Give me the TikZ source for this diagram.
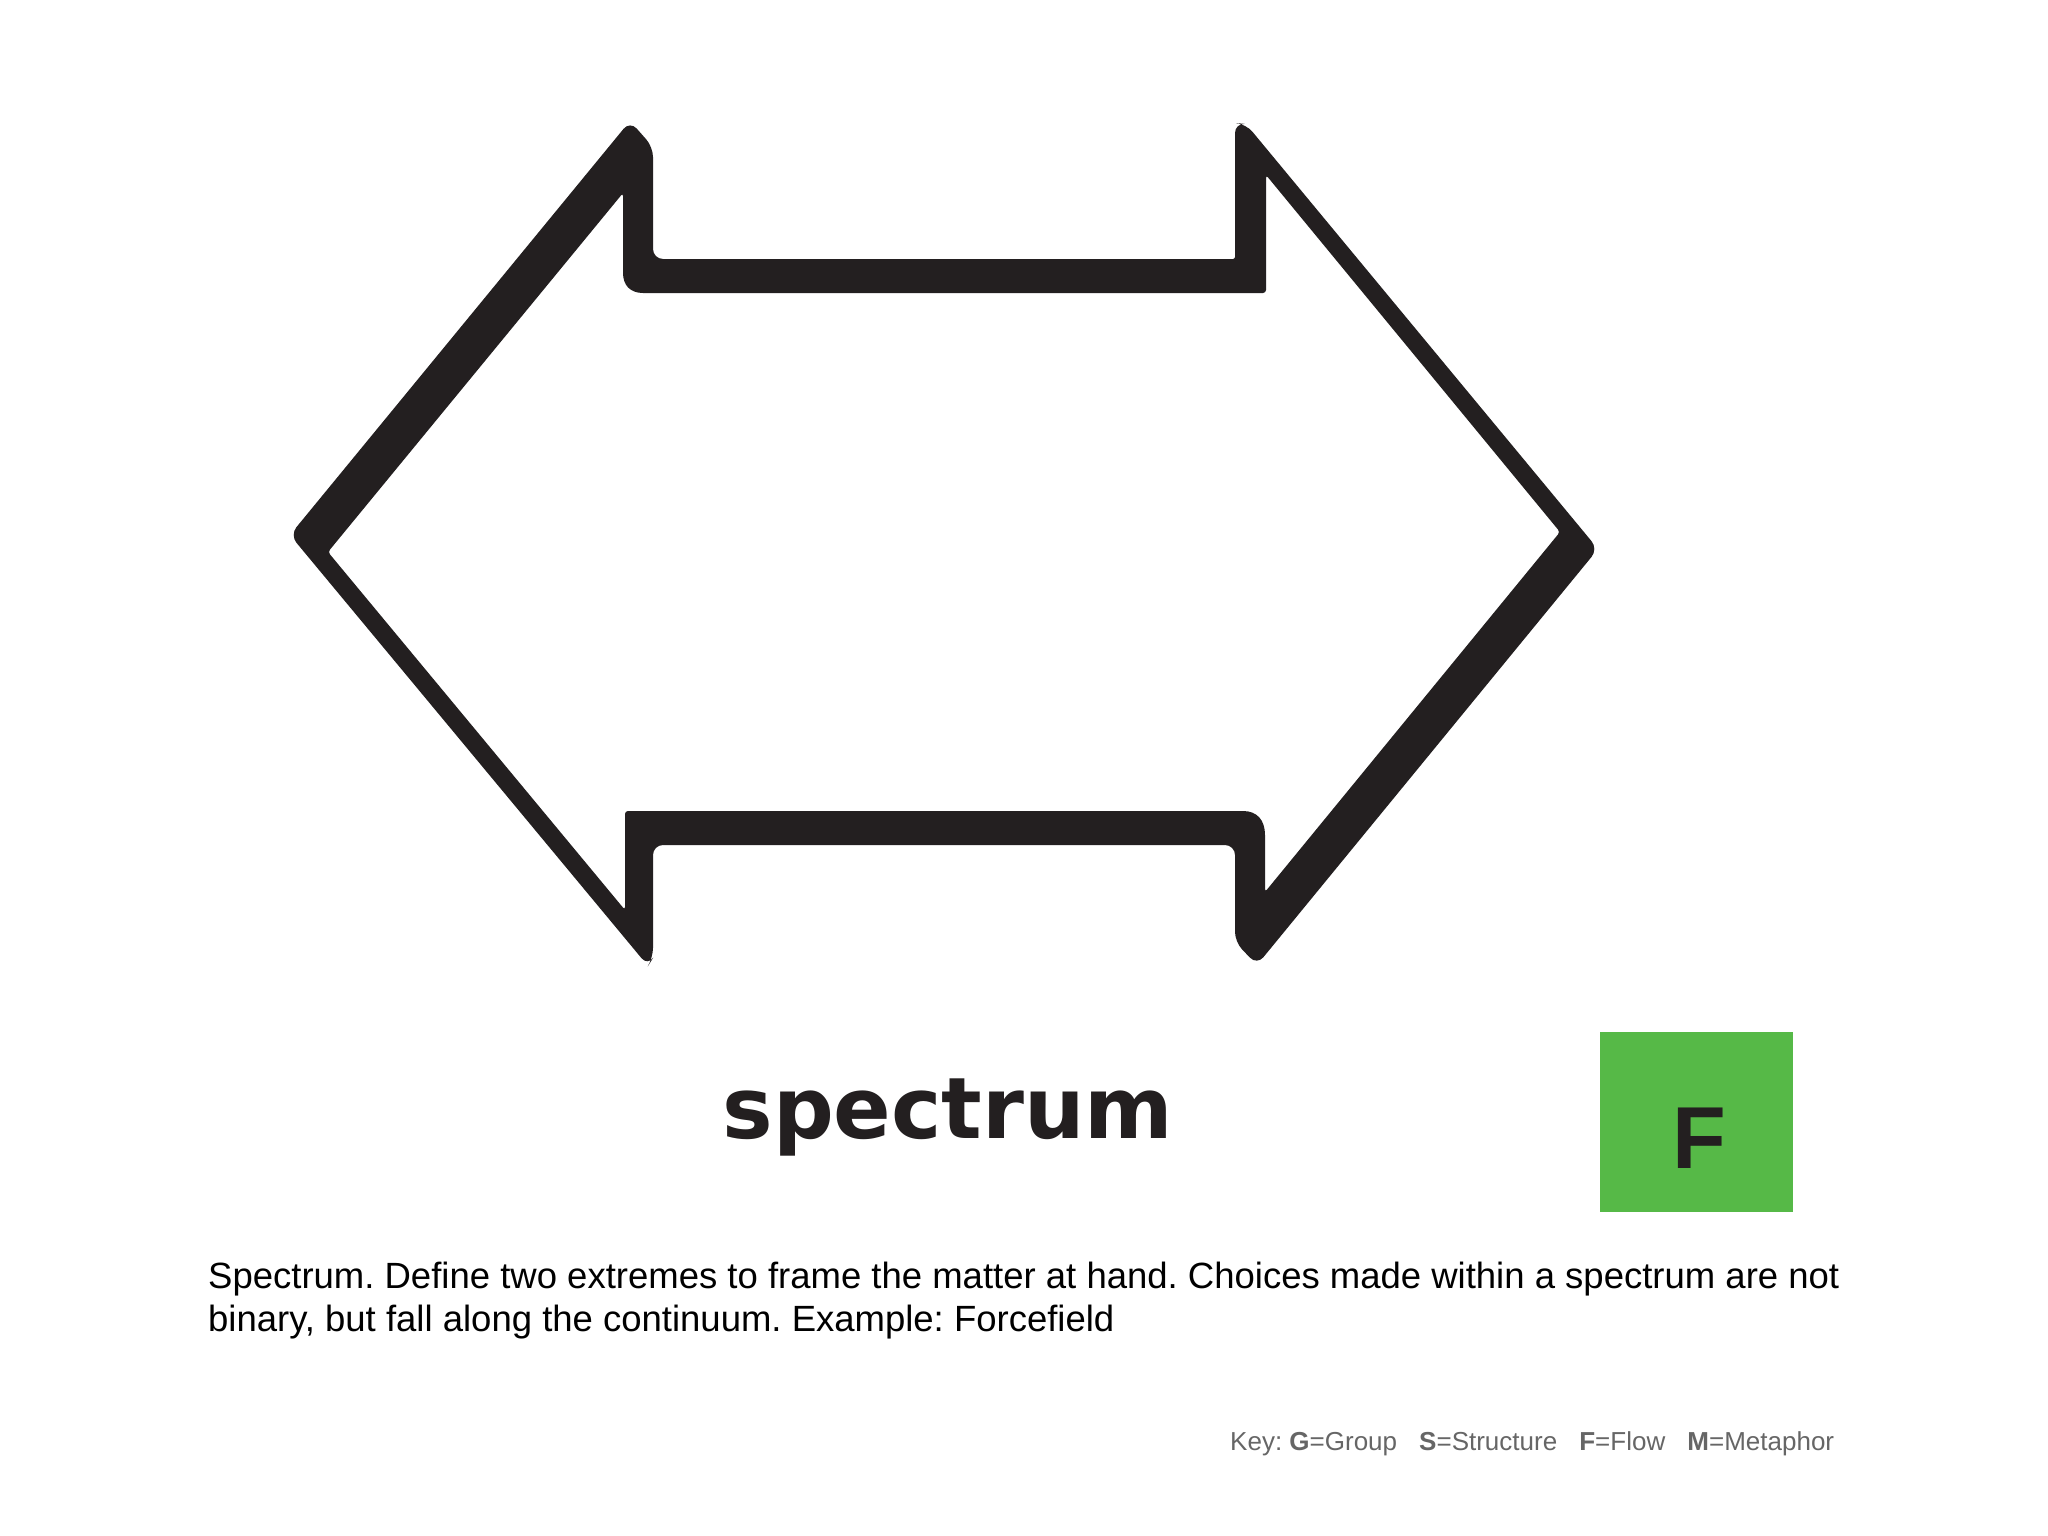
\documentclass[tikz,border=0pt]{standalone}
\usepackage{fontspec}
\setmainfont{Liberation Sans}
\newfontfamily\spectrumfont{DejaVu Sans}
\definecolor{ink}{HTML}{231F20}
\definecolor{fgreen}{HTML}{56B947}
\definecolor{keygray}{HTML}{666666}
\frenchspacing
\tikzset{
  desc/.style={anchor=base west, inner sep=0pt, text=black, font=\fontsize{36.5}{43}\selectfont},
  keytext/.style={anchor=base west, inner sep=0pt, text=keygray, font=\fontsize{26}{30}\selectfont},
  fbox/.style={fill=fgreen, draw=none, minimum width=193pt, minimum height=180pt, inner sep=0pt},
}
\begin{document}
\begin{tikzpicture}[x=1pt,y=-1pt]
\useasboundingbox (0,0) rectangle (2048,1536);
\fill[white] (0,0) rectangle (2048,1536);
% double arrow outline
\fill[ink, even odd rule]
  [rounded corners=10]
  (290,535) -- (630,121) -- (653,147) -- (653,259) [rounded corners=2] -- (1235,259) [rounded corners=10] -- (1235,123)
  -- (1246,124) -- (1598,549) -- (1257,965) -- (1235,942) -- (1235,845)
  -- (653,845) -- (653,958) -- (648,966) -- cycle
  [rounded corners=3]
  (328,552) -- (623,193) -- (623,270) .. controls (623,285) and (630,293) .. (646,293) -- (1266,293) -- (1266,175)
  -- (1560,532) -- (1265,892) -- (1265,838) .. controls (1265,820) and (1257,811) .. (1240,811) -- (625,811)
  -- (625,910) -- cycle;
% label
\node[anchor=base, inner sep=0pt, text=ink, font=\spectrumfont\bfseries\fontsize{85}{100}\selectfont] (title) at (948,1138) {spectrum};
% F badge
\node[fbox] (badge) at (1696.5,1122) {};
\node[anchor=base, inner sep=0pt, text=ink, font=\bfseries\fontsize{88}{100}\selectfont] (fletter) at (1699,1168) {F};
% description
\node[desc] (desc1) at (208,1288) {Spectrum. Define two extremes to frame the matter at hand. Choices made within a spectrum are not};
\node[desc] (desc2) at (208,1331) {binary, but fall along the continuum. Example: Forcefield};
% key
\node[keytext] (key) at (1230,1450) {Key: \textbf{G}=Group\hspace{0.85em}\textbf{S}=Structure\hspace{0.85em}\textbf{F}=Flow\hspace{0.85em}\textbf{M}=Metaphor};
\end{tikzpicture}
\end{document}
